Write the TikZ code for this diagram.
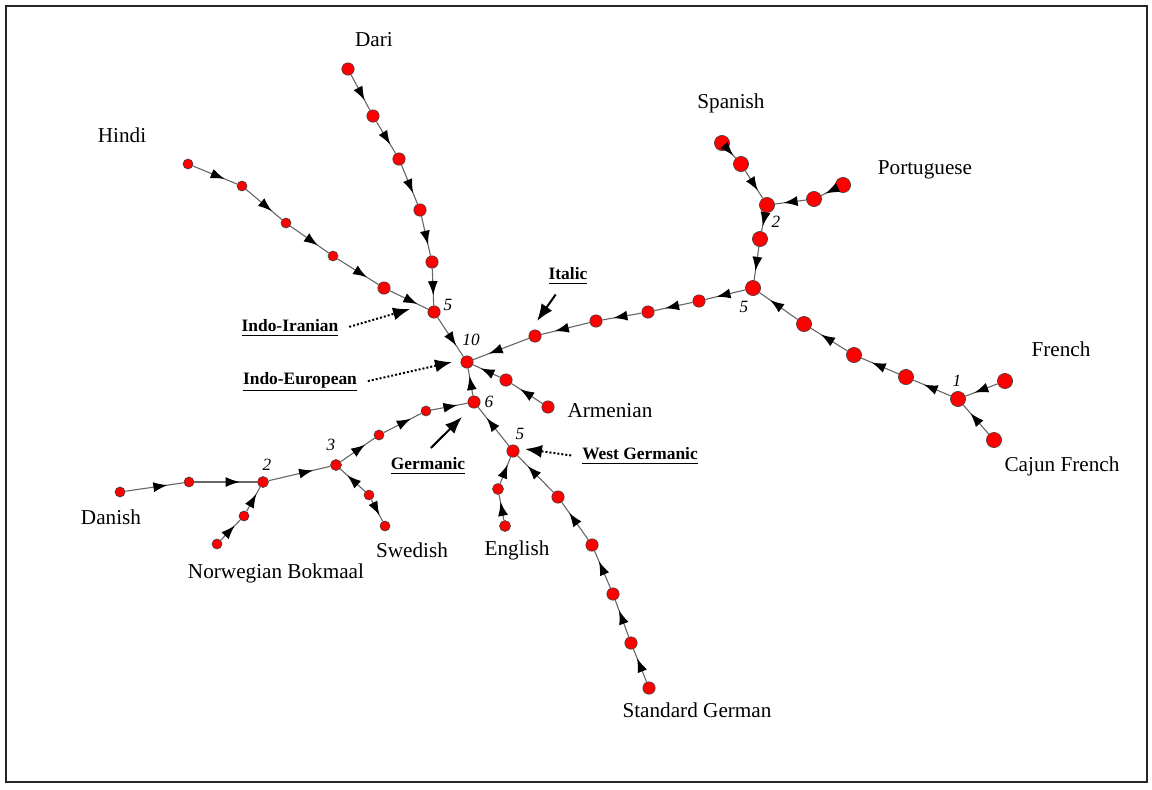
\documentclass[tikz,border=0pt]{standalone}
\usepackage{fontspec}
\setmainfont{Liberation Serif}
\usetikzlibrary{arrows.meta,decorations.markings}
\tikzset{
  lang/.style={circle,fill=red,draw=black!75,line width=0.3pt,inner sep=0pt,minimum size=5pt},
  langm/.style={lang,minimum size=6.2pt},
  langl/.style={lang,minimum size=7.6pt},
  edge/.style={draw=black!60,line width=0.55pt,postaction={decorate},
    decoration={markings,mark=at position 0.72 with {\arrow{Latex[length=7pt,width=5pt,black]}}}},
  langname/.style={font=\fontsize{10.6}{12}\selectfont},
  cnt/.style={font=\fontsize{8.6}{10}\selectfont\itshape},
  grouplabel/.style={font=\fontsize{8.7}{10}\selectfont\bfseries},
  pointer/.style={line width=1pt,-{Latex[length=8.5pt,width=6.5pt]},shorten <=2pt},
}
\begin{document}
\begin{tikzpicture}[x=0.5pt,y=-0.5pt]
\useasboundingbox (0,0) rectangle (1152,789);
\draw[black!85,line width=1pt] (6,6) rectangle (1147,782);

% inner nodes
\node[langm] (ie) at (467,362) {};
\node[langm] (ii) at (434,312) {};
\node[langm] (ge) at (474,402) {};
\node[langm] (wg) at (513,451) {};
\node[lang,minimum size=5.5pt] (ng) at (336,465) {};
\node[lang,minimum size=5.5pt] (sc) at (263,482) {};
\node[langl] (it) at (753,288) {};
\node[langl] (ib) at (767,205) {};
\node[langl] (fr) at (958,399) {};

% Indo-Iranian
\node[langm] (d1) at (348,69) {};
\node[langm] (d2) at (373,116) {};
\node[langm] (d3) at (399,159) {};
\node[langm] (d4) at (420,210) {};
\node[langm] (d5) at (432,262) {};
\node[lang] (h1) at (188,164) {};
\node[lang] (h2) at (242,186) {};
\node[lang] (h3) at (286,223) {};
\node[lang] (h4) at (333,256) {};
\node[langm] (h5) at (384,288) {};
\draw[edge] (d1) -- (d2); \draw[edge] (d2) -- (d3); \draw[edge] (d3) -- (d4);
\draw[edge] (d4) -- (d5); \draw[edge] (d5) -- (ii);
\draw[edge] (h1) -- (h2); \draw[edge] (h2) -- (h3); \draw[edge] (h3) -- (h4);
\draw[edge] (h4) -- (h5); \draw[edge] (h5) -- (ii);
\draw[edge] (ii) -- (ie);

% Armenian
\node[langm] (ar1) at (548,407) {};
\node[langm] (ar2) at (506,380) {};
\draw[edge] (ar1) -- (ar2); \draw[edge] (ar2) -- (ie);

% Germanic
\node[lang,minimum size=5.5pt] (en1) at (505,526) {};
\node[lang,minimum size=5.5pt] (en2) at (498,489) {};
\node[langm] (sg1) at (649,688) {};
\node[langm] (sg2) at (631,643) {};
\node[langm] (sg3) at (613,594) {};
\node[langm] (sg4) at (592,545) {};
\node[langm] (sg5) at (558,497) {};
\node[lang] (ng1) at (426,411) {};
\node[lang] (ng2) at (379,435) {};
\node[lang] (da1) at (120,492) {};
\node[lang] (da2) at (189,482) {};
\node[lang] (no1) at (217,544) {};
\node[lang] (no2) at (244,516) {};
\node[lang] (sw1) at (385,526) {};
\node[lang] (sw2) at (369,495) {};
\draw[edge] (ge) -- (ie);
\draw[edge] (wg) -- (ge);
\draw[edge] (en1) -- (en2); \draw[edge] (en2) -- (wg);
\draw[edge] (sg1) -- (sg2); \draw[edge] (sg2) -- (sg3); \draw[edge] (sg3) -- (sg4);
\draw[edge] (sg4) -- (sg5); \draw[edge] (sg5) -- (wg);
\draw[edge] (ng) -- (ng2); \draw[edge] (ng2) -- (ng1); \draw[edge] (ng1) -- (ge);
\draw[edge] (sc) -- (ng);
\draw[edge] (da1) -- (da2); \draw[edge] (da2) -- (sc);
\draw[edge] (no1) -- (no2); \draw[edge] (no2) -- (sc);
\draw[edge] (sw2) -- (ng); \draw[edge] (sw2) -- (sw1);

% Italic
\node[langm] (it1) at (699,301) {};
\node[langm] (it2) at (648,312) {};
\node[langm] (it3) at (596,321) {};
\node[langm] (it4) at (535,336) {};
\node[langl] (ib1) at (760,239) {};
\node[langl] (sp1) at (722,143) {};
\node[langl] (sp2) at (741,164) {};
\node[langl] (pt1) at (843,185) {};
\node[langl] (pt2) at (814,199) {};
\node[langl] (f1) at (804,324) {};
\node[langl] (f2) at (854,355) {};
\node[langl] (f3) at (906,377) {};
\node[langl] (frl) at (1005,381) {};
\node[langl] (cj) at (994,440) {};
\draw[edge] (it) -- (it1); \draw[edge] (it1) -- (it2); \draw[edge] (it2) -- (it3);
\draw[edge] (it3) -- (it4); \draw[edge] (it4) -- (ie);
\draw[edge] (ib) -- (ib1); \draw[edge] (ib1) -- (it);
\draw[edge] (sp1) -- (sp2); \draw[edge] (sp2) -- (ib);
\draw[edge] (pt1) -- (pt2); \draw[edge] (pt2) -- (ib);
\draw[edge] (fr) -- (f3); \draw[edge] (f3) -- (f2); \draw[edge] (f2) -- (f1);
\draw[edge] (f1) -- (it);
\draw[edge] (frl) -- (fr); \draw[edge] (cj) -- (fr);

% counts
\node[cnt] (cie) at (471,340) {10};
\node[cnt] (cii) at (448,305) {5};
\node[cnt] (cge) at (489,402) {6};
\node[cnt] (cwg) at (520,434) {5};
\node[cnt] (cng) at (331,445) {3};
\node[cnt] (csc) at (267,465) {2};
\node[cnt] (cit) at (744,307) {5};
\node[cnt] (cib) at (776,222) {2};
\node[cnt] (cfr) at (957,381) {1};

% language names
\node[langname] (tdari) at (374,40) {Dari};
\node[langname] (thindi) at (122,135) {Hindi};
\node[langname] (tspan) at (731,103) {Spanish};
\node[langname] (tport) at (925,170) {Portuguese};
\node[langname] (tfr) at (1061,349) {French};
\node[langname] (tcj) at (1062,466) {Cajun French};
\node[langname] (tarm) at (610,411) {Armenian};
\node[langname] (teng) at (517,550) {English};
\node[langname] (tsg) at (697,710) {Standard German};
\node[langname] (tdan) at (111,517) {Danish};
\node[langname] (tnor) at (276,573) {Norwegian Bokmaal};
\node[langname] (tswe) at (412,550) {Swedish};

% groups
\node[grouplabel] (lii) at (290,328) {\underline{Indo-Iranian}};
\node[grouplabel] (lie) at (300,382) {\underline{Indo-European}};
\node[grouplabel] (lge) at (428,466) {\underline{Germanic}};
\node[grouplabel] (lwg) at (640,456) {\underline{West Germanic}};
\node[grouplabel] (lit) at (568,276) {\underline{Italic}};
\coordinate (pii) at (410,309);
\coordinate (pie) at (452,362);
\coordinate (pge) at (462,417);
\coordinate (pwg) at (525,449);
\coordinate (pit) at (537,321);
\draw[pointer,densely dotted] (lii.east) -- (pii);
\draw[pointer,densely dotted] (lie.east) -- (pie);
\draw[pointer,densely dotted] (lwg.west) -- (pwg);
\draw[pointer] (lge.north) -- (pge);
\draw[pointer] ([xshift=-5pt]lit.south) -- (pit);
\end{tikzpicture}
\end{document}
